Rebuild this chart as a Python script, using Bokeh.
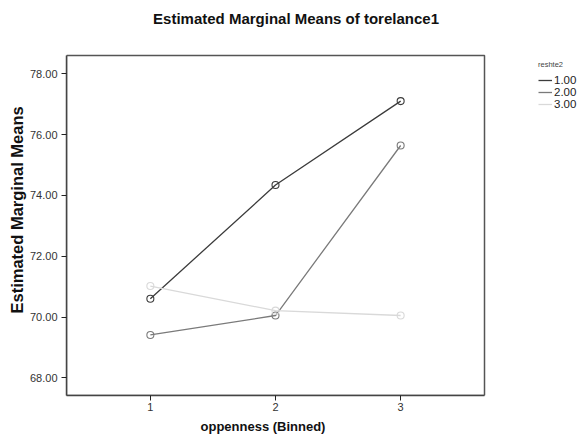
from bokeh.plotting import figure
from bokeh.models import (Range1d, FixedTicker, Legend, LegendItem, Label,
                          Title)
from bokeh.embed import file_html
from bokeh.resources import INLINE

# ---- data ----
x_cats = [1, 2, 3]
x_tick_labels = ["1", "2", "3"]
series_names = ["1.00", "2.00", "3.00"]
s1 = [70.60, 74.34, 77.10]
s2 = [69.41, 70.05, 75.64]
s3 = [71.02, 70.21, 70.05]
y_ticks = [68, 70, 72, 74, 76, 78]
y_tick_labels = ["68.00", "70.00", "72.00", "74.00", "76.00", "78.00"]
title_text = "Estimated Marginal Means of torelance1"
x_label = "oppenness (Binned)"
y_label = "Estimated Marginal Means"
legend_title = "reshte2"
colors = ["#3c3c3c", "#7a7a7a", "#d9d9d9"]

FONT = "Liberation Sans"

# plotting box (axis extents) and the wider drawing area around it
x_lo, x_hi = 0.33, 3.67
y_lo, y_hi = 67.42, 78.60
x_view_hi = 4.469   # extra room on the right for the legend
y_view_hi = 80.408  # extra room on top for the title

p = figure(width=584, height=440, output_backend="svg", toolbar_location=None,
           x_range=Range1d(x_lo, x_view_hi), y_range=Range1d(y_lo, y_view_hi),
           min_border_left=66, min_border_right=0, min_border_top=0,
           min_border_bottom=45)
p.title = None
p.xgrid.visible = False
p.ygrid.visible = False
p.background_fill_color = "white"
p.border_fill_color = "white"
p.outline_line_color = None

xa = p.xaxis[0]
ya = p.yaxis[0]
for ax in (xa, ya):
    ax.axis_line_color = "#444444"
    ax.axis_line_width = 1.5
    ax.major_tick_line_color = "#222222"
    ax.major_tick_out = 5
    ax.major_tick_in = 0
    ax.minor_tick_line_color = None
    ax.major_label_text_font = FONT
    ax.major_label_text_font_size = "11px"
    ax.major_label_text_color = "#333333"

xa.bounds = (x_lo, x_hi)
xa.ticker = FixedTicker(ticks=x_cats)
xa.major_label_overrides = {c: l for c, l in zip(x_cats, x_tick_labels)}
xa.major_label_standoff = 2

ya.bounds = (y_lo, y_hi)
ya.ticker = FixedTicker(ticks=y_ticks)
ya.major_label_overrides = {t: l for t, l in zip(y_ticks, y_tick_labels)}
ya.major_label_standoff = 4

# axis titles, placed like the original
p.add_layout(Title(text=x_label, align="left", offset=134, standoff=7,
                   text_font=FONT, text_font_size="13px",
                   text_font_style="bold", text_color="#111111"), "below")
p.add_layout(Title(text=y_label, align="left", offset=82, standoff=2,
                   text_font=FONT, text_font_size="16.5px",
                   text_font_style="bold", text_color="#111111"), "left")

# top and right edges of the plotting box
p.quad(left=[x_lo], right=[x_hi], bottom=[y_lo], top=[y_hi], fill_color=None,
       line_color="#555555", line_width=1.5)

items = []
for name, ys, col in zip(series_names, [s1, s2, s3], colors):
    r = p.line(x_cats, ys, line_color=col, line_width=1.3)
    p.scatter(x_cats, ys, marker="circle", size=7, fill_color=None,
              line_color=col, line_width=1.1)
    items.append(LegendItem(label=name, renderers=[r]))

legend = Legend(items=items, location=(472, 285), title=legend_title,
                title_text_font=FONT, title_text_font_size="7.5px",
                title_text_font_style="normal", title_text_color="#444444",
                title_standoff=5,
                label_text_font=FONT, label_text_font_size="11.5px",
                label_text_color="#222222",
                label_height=10, glyph_height=10, glyph_width=14,
                label_standoff=2, spacing=-2, padding=0, margin=0,
                border_line_color=None, background_fill_alpha=0)
p.add_layout(legend, "center")

p.add_layout(Label(x=2.164, y=79.80, text=title_text, text_align="center",
                   text_baseline="alphabetic", text_font=FONT,
                   text_font_size="15px", text_font_style="bold",
                   text_color="#111111"))

open("out.html", "w").write(file_html(p, INLINE))
